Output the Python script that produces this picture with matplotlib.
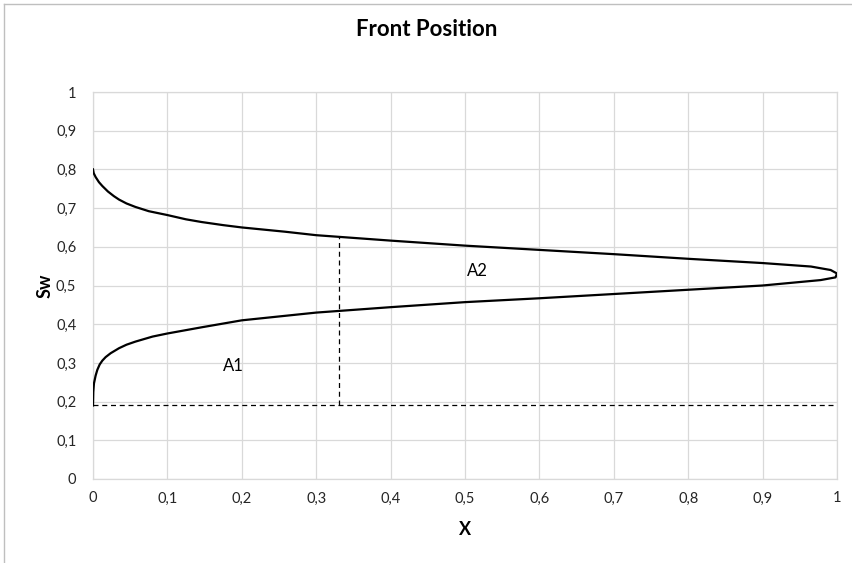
import matplotlib
matplotlib.use('Agg')
import matplotlib.pyplot as plt
from matplotlib.lines import Line2D
from matplotlib.ticker import FuncFormatter

# Sw profile against dimensionless distance:
# upper branch from x=0 out to the tip, then the lower branch back to x=0
x_top = [0, 0.001, 0.0036, 0.008, 0.0126, 0.02, 0.028, 0.035, 0.045, 0.057,
         0.075, 0.1, 0.125, 0.146, 0.175, 0.2, 0.258, 0.3, 0.4, 0.5,
         0.6, 0.7, 0.8, 0.9, 0.965, 0.9915, 1.0]
sw_top = [0.80, 0.79, 0.78, 0.767, 0.757, 0.743, 0.731, 0.722, 0.712, 0.703,
          0.692, 0.682, 0.671, 0.664, 0.656, 0.650, 0.639, 0.630, 0.616, 0.603,
          0.592, 0.581, 0.569, 0.558, 0.549, 0.540, 0.531]
x_bot = [0.998, 0.978, 0.9, 0.8, 0.7, 0.6, 0.5, 0.4, 0.3, 0.2,
         0.146, 0.1, 0.08, 0.057, 0.045, 0.035, 0.0237, 0.017, 0.0126, 0.009,
         0.0058, 0.0035, 0.0013, 0.0004, 0]
sw_bot = [0.521, 0.514, 0.500, 0.489, 0.478, 0.467, 0.457, 0.444, 0.430, 0.410,
          0.392, 0.376, 0.368, 0.355, 0.347, 0.338, 0.325, 0.315, 0.306, 0.296,
          0.282, 0.267, 0.247, 0.225, 0.19]

sw_initial = 0.19      # dashed baseline
x_front = 0.331        # dashed front position
sw_front = 0.626

ticks = [0, 0.1, 0.2, 0.3, 0.4, 0.5, 0.6, 0.7, 0.8, 0.9, 1]

plt.rcParams['font.family'] = ['Lato', 'DejaVu Sans']

fig = plt.figure(figsize=(8.53, 5.63), dpi=100)
ax = fig.add_axes([93 / 853, 1 - 479 / 563, 744 / 853, 387 / 563])

ax.plot(x_top + x_bot, sw_top + sw_bot, color='black', lw=1.6,
        solid_joinstyle='round', zorder=3)
ax.plot([0, 1], [sw_initial, sw_initial], color='black', lw=0.9,
        dashes=(4, 3), zorder=3)
ax.plot([x_front, x_front], [sw_initial, sw_front], color='black', lw=0.9,
        dashes=(4, 3), zorder=3)

ax.text(0.189, 0.292, 'A1', fontsize=12, ha='center', va='center')
ax.text(0.517, 0.537, 'A2', fontsize=12, ha='center', va='center')

ax.set_xlim(0, 1)
ax.set_ylim(0, 1)
ax.set_xticks(ticks)
ax.set_yticks(ticks)
fmt = FuncFormatter(lambda v, p: ('%g' % round(v, 1)).replace('.', ','))
ax.xaxis.set_major_formatter(fmt)
ax.yaxis.set_major_formatter(fmt)
ax.tick_params(length=0, labelsize=10.5, colors='#262626', pad=9)
ax.tick_params(axis='y', pad=12)
ax.grid(True, color='#d9d9d9', lw=0.9)
ax.set_axisbelow(True)
for s in ax.spines.values():
    s.set_color('#d9d9d9')
    s.set_linewidth(0.9)

ax.set_xlabel('X', fontsize=13, fontweight='bold', labelpad=11)
ax.set_ylabel('Sw', fontsize=13, fontweight='bold', labelpad=2)
fig.text(0.5, 1 - 29 / 563, 'Front Position', fontsize=16, fontweight='bold',
         ha='center', va='center', color='#000000')

# chart frame
fig.add_artist(Line2D([4 / 853, 1], [1 - 4 / 563, 1 - 4 / 563],
                      color='#bfbfbf', lw=1))
fig.add_artist(Line2D([4 / 853, 4 / 853], [0, 1 - 4 / 563],
                      color='#bfbfbf', lw=1))

fig.savefig('out.png', dpi=100, facecolor='white')
